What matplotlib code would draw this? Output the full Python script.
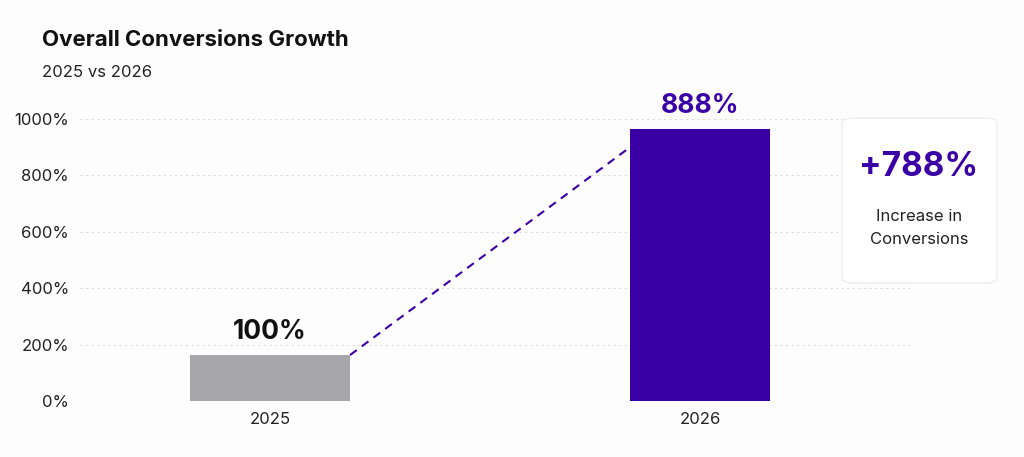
import matplotlib
matplotlib.use("Agg")
import matplotlib.pyplot as plt
from matplotlib.patches import FancyBboxPatch

categories = ["2025", "2026"]
bar_heights = [163, 965]
bar_labels = ["100%", "888%"]
yticks = [0, 200, 400, 600, 800, 1000]
colors = ["#a7a7ab", "#3a00a6"]
widths = [0.372, 0.326]

plt.rcParams['font.family'] = ['Inter', 'DejaVu Sans']
fig = plt.figure(figsize=(10.24, 4.57), dpi=100)
fig.patch.set_facecolor("#fdfdfd")
ax = fig.add_axes([80/1024, 1-401/457, 830/1024, 282/457])
ax.set_facecolor("none")
x = [0, 1]
ax.bar(x, bar_heights, width=widths, color=colors, zorder=3)
ax.set_xlim(-0.442, 1.488)
ax.set_ylim(0, 1000)
ax.set_yticks(yticks)
ax.set_yticklabels([f"{v}%" for v in yticks], fontsize=12, color="#222")
ax.set_xticks(x)
ax.set_xticklabels(categories, fontsize=12, color="#222")
ax.tick_params(length=0, pad=8)
for s in ax.spines.values():
    s.set_visible(False)
ax.grid(axis="y", linestyle=(0, (2, 3)), color="#dddddd", lw=0.8, zorder=0)
ax.axhline(0, color="#dddddd", lw=0.8)
for xi, h, lab, c in zip(x, bar_heights, bar_labels, ["#111", "#3a00a6"]):
    ax.text(xi, h + 35, lab, ha="center", va="bottom", fontsize=19, fontweight="bold", color=c, clip_on=False)
ax.plot([x[0] + widths[0]/2, x[1] - widths[1]/2], [bar_heights[0], 900],
        linestyle=(0, (4, 3)), color="#3a00a6", lw=1.5, zorder=4)

fig.text(42/1024, 1-40/457, "Overall Conversions Growth", fontsize=16, fontweight="bold", color="#111", va="center")
fig.text(42/1024, 1-72/457, "2025 vs 2026", fontsize=12, color="#222", va="center")

box = FancyBboxPatch((842/1024, 1-283/457), 155/1024, 165/457, boxstyle="round,pad=0,rounding_size=0.012",
                     transform=fig.transFigure, facecolor="white", edgecolor="#eeeeee", lw=1)
fig.patches.append(box)
fig.text(919/1024, 1-167/457, "+788%", fontsize=24, fontweight="bold", color="#3a00a6", ha="center", va="center")
fig.text(919/1024, 1-228/457, "Increase in\nConversions", fontsize=12, color="#222", ha="center", va="center", linespacing=1.6)

fig.savefig("out.png", dpi=100, facecolor=fig.get_facecolor())
